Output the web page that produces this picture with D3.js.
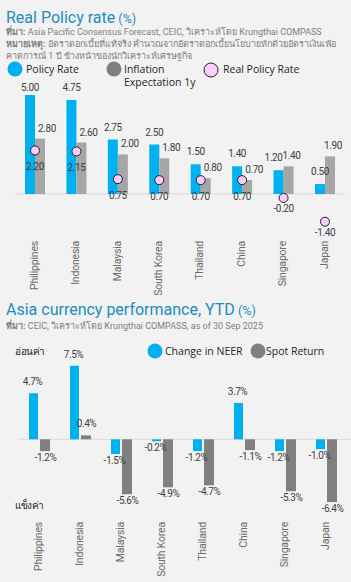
<!DOCTYPE html>
<html>
<head>
<meta charset="utf-8">
<script src="https://cdn.jsdelivr.net/npm/d3@7"></script>
<style>
  body { margin: 0; background: #f2f2f2; }
  svg { display: block; }
  .title { font-family: Roboto, sans-serif; font-size: 16px; fill: #1b8dbd; }
  .src { font-family: Roboto, "Noto Sans", sans-serif; font-size: 9px; fill: #808080; }
  .lg { font-family: "Open Sans", sans-serif; font-size: 10.5px; fill: #262626; }
  .lbl { font-family: Roboto, sans-serif; font-size: 10px; letter-spacing: -0.4px; fill: #404040; }
  .cat { font-family: Roboto, sans-serif; font-size: 10.5px; letter-spacing: -0.2px; fill: #6b6b6b; }
</style>
</head>
<body>
<div id="chart"></div>
<script>
'use strict';

// chart 1 data
var countries = ['Philippines', 'Indonesia', 'Malaysia', 'South Korea', 'Thailand', 'China', 'Singapore', 'Japan'];
var policyRate = [5.00, 4.75, 2.75, 2.50, 1.50, 1.40, 1.20, 0.50];
var inflationExp = [2.80, 2.60, 2.00, 1.80, 0.80, 0.70, 1.40, 1.90];
var realRate = [2.20, 2.15, 0.75, 0.70, 0.70, 0.70, -0.20, -1.40];

// chart 2 data
var neer = [4.7, 7.5, -1.5, -0.2, -1.2, 3.7, -1.2, -1.0];
var spotReturn = [-1.2, 0.4, -5.6, -4.9, -4.7, -1.1, -5.3, -6.4];

var blue = '#00b0f0',
    grayLight = '#a6a6a6',
    grayDark = '#808080',
    pink = '#ffccff';

var svg = d3.select('#chart').append('svg').attr('width', 351).attr('height', 582);

function f2(v) { return v.toFixed(2); }
function pct(v) { return v.toFixed(1) + '%'; }

// ---------- headers ----------
var t1 = svg.append('text').attr('class', 'title').attr('x', 6).attr('y', 23);
t1.append('tspan').text('Real Policy rate');
t1.append('tspan').attr('font-size', '12.5px').text(' (%)');

svg.append('text').attr('class', 'src').attr('x', 6).attr('y', 35)
  .html('<tspan font-weight="bold">ที่มา:</tspan> Asia Pacific Consensus Forecast, CEIC, วิเคราะห์โดย Krungthai COMPASS');
svg.append('text').attr('class', 'src').attr('x', 6).attr('y', 47)
  .html('<tspan font-weight="bold">หมายเหตุ:</tspan> อัตราดอกเบี้ยที่แท้จริง คำนวณจากอัตราดอกเบี้ยนโยบายหักด้วยอัตราเงินเฟ้อ');
svg.append('text').attr('class', 'src').attr('x', 6).attr('y', 59)
  .text('คาดการณ์ 1 ปี ข้างหน้าของนักวิเคราะห์เศรษฐกิจ');

// legend 1
svg.append('circle').attr('cx', 15).attr('cy', 69).attr('r', 7.5).attr('fill', blue);
svg.append('text').attr('class', 'lg').attr('x', 26).attr('y', 73).text('Policy Rate');
svg.append('circle').attr('cx', 114).attr('cy', 69).attr('r', 7.5).attr('fill', grayDark);
svg.append('text').attr('class', 'lg').attr('x', 124).attr('y', 73).text('Inflation');
svg.append('text').attr('class', 'lg').attr('x', 124).attr('y', 85.5).text('Expectation 1y');
svg.append('circle').attr('cx', 211).attr('cy', 70).attr('r', 7).attr('fill', pink).attr('stroke', '#222').attr('stroke-width', 1);
svg.append('text').attr('class', 'lg').attr('x', 223).attr('y', 73).text('Real Policy Rate');

// ---------- chart 1 ----------
var x1 = d3.scaleBand().domain(countries).range([14.3, 345.7]),
    y1 = d3.scaleLinear().domain([0, 5]).range([194, 95]);

var g1 = svg.append('g');
var rows1 = countries.map(function (c, i) {
  return { c: c, p: policyRate[i], inf: inflationExp[i], r: realRate[i] };
});

g1.append('line').attr('x1', 15).attr('x2', 345).attr('y1', y1(0)).attr('y2', y1(0))
  .attr('stroke', '#d9d9d9').attr('stroke-width', 1);

g1.selectAll('rect.pol').data(rows1).enter().append('rect').attr('class', 'pol')
  .attr('x', function (d) { return x1(d.c) + x1.bandwidth() / 2 - 10; })
  .attr('width', 10)
  .attr('y', function (d) { return y1(d.p); })
  .attr('height', function (d) { return y1(0) - y1(d.p); })
  .attr('fill', blue);

g1.selectAll('rect.inf').data(rows1).enter().append('rect').attr('class', 'inf')
  .attr('x', function (d) { return x1(d.c) + x1.bandwidth() / 2; })
  .attr('width', 10)
  .attr('y', function (d) { return y1(d.inf); })
  .attr('height', function (d) { return y1(0) - y1(d.inf); })
  .attr('fill', grayLight);

// policy labels, pushed left when the inflation label sits close beside them
g1.selectAll('text.pl').data(rows1).enter().append('text').attr('class', 'lbl pl')
  .attr('text-anchor', 'middle')
  .attr('x', function (d) { return x1(d.c) + x1.bandwidth() / 2 - 5 + (d.p < d.inf && d.inf - d.p < 0.5 ? -5 : 0); })
  .attr('y', function (d) { return Math.max(91, y1(d.p) - 9); })
  .text(function (d) { return f2(d.p); });

g1.selectAll('text.il').data(rows1).enter().append('text').attr('class', 'lbl il')
  .attr('text-anchor', 'middle')
  .attr('x', function (d) { return x1(d.c) + x1.bandwidth() / 2 + 5 + (d.p > d.inf ? 7 : 3); })
  .attr('y', function (d) { return y1(d.inf) - 7; })
  .text(function (d) { return f2(d.inf); });

g1.selectAll('circle.rr').data(rows1).enter().append('circle').attr('class', 'rr')
  .attr('cx', function (d) { return x1(d.c) + x1.bandwidth() / 2; })
  .attr('cy', function (d) { return y1(d.r); })
  .attr('r', 4.5)
  .attr('fill', pink).attr('stroke', '#222').attr('stroke-width', 1);

g1.selectAll('text.rl').data(rows1).enter().append('text').attr('class', 'lbl rl')
  .attr('text-anchor', 'middle')
  .attr('x', function (d) { return x1(d.c) + x1.bandwidth() / 2; })
  .attr('y', function (d) { return y1(d.r) + (d.r > 0 ? 20 : 14); })
  .text(function (d) { return f2(d.r); });

g1.selectAll('text.cat').data(countries).enter().append('text').attr('class', 'cat')
  .attr('text-anchor', 'end')
  .attr('transform', function (d) {
    return 'translate(' + (x1(d) + x1.bandwidth() / 2 - 1) + ',241) rotate(-90)';
  })
  .attr('dy', '0.35em')
  .text(function (d) { return d; });

// ---------- chart 2 headers ----------
var t2 = svg.append('text').attr('class', 'title').attr('x', 6).attr('y', 315);
t2.append('tspan').text('Asia currency performance, YTD');
t2.append('tspan').attr('font-size', '12.5px').text(' (%)');

svg.append('text').attr('class', 'src').attr('x', 6).attr('y', 329)
  .html('<tspan font-weight="bold">ที่มา:</tspan> CEIC, วิเคราะห์โดย Krungthai COMPASS, as of 30 Sep 2025');

svg.append('circle').attr('cx', 155).attr('cy', 351).attr('r', 7.5).attr('fill', blue);
svg.append('text').attr('class', 'lg').attr('x', 165).attr('y', 355).text('Change in NEER');
svg.append('circle').attr('cx', 258).attr('cy', 351).attr('r', 7.5).attr('fill', grayDark);
svg.append('text').attr('class', 'lg').attr('x', 266).attr('y', 355).text('Spot Return');

svg.append('text').attr('class', 'lbl').attr('x', 15).attr('y', 355).style('fill', '#222').text('อ่อนค่า');
svg.append('text').attr('class', 'lbl').attr('x', 15).attr('y', 509).style('fill', '#222').text('แข็งค่า');

// ---------- chart 2 ----------
var x2 = d3.scaleBand().domain(countries).range([19, 347]),
    y2 = d3.scaleLinear().domain([0, 7.5]).range([439.3, 365.8]);

var g2 = svg.append('g');
var rows2 = countries.map(function (c, i) {
  return { c: c, n: neer[i], s: spotReturn[i] };
});

g2.append('line').attr('x1', 18).attr('x2', 351).attr('y1', y2(0)).attr('y2', y2(0))
  .attr('stroke', '#d9d9d9').attr('stroke-width', 1);

function barY(v) { return v >= 0 ? y2(v) : y2(0); }
function barH(v) { return Math.abs(y2(v) - y2(0)); }
function lblY(v) { return v >= 0 ? y2(v) - 8 : y2(v) + 9.5; }

g2.selectAll('rect.ne').data(rows2).enter().append('rect').attr('class', 'ne')
  .attr('x', function (d) { return x2(d.c) + x2.bandwidth() / 2 - 10.5; })
  .attr('width', 9)
  .attr('y', function (d) { return barY(d.n); })
  .attr('height', function (d) { return barH(d.n); })
  .attr('fill', blue);

g2.selectAll('rect.sp').data(rows2).enter().append('rect').attr('class', 'sp')
  .attr('x', function (d) { return x2(d.c) + x2.bandwidth() / 2 + 0.5; })
  .attr('width', 10)
  .attr('y', function (d) { return barY(d.s); })
  .attr('height', function (d) { return barH(d.s); })
  .attr('fill', grayDark);

g2.selectAll('text.nl').data(rows2).enter().append('text').attr('class', 'lbl nl')
  .attr('text-anchor', 'middle')
  .attr('x', function (d) { return x2(d.c) + x2.bandwidth() / 2 - 7; })
  .attr('y', function (d) { return lblY(d.n); })
  .text(function (d) { return pct(d.n); });

g2.selectAll('text.sl').data(rows2).enter().append('text').attr('class', 'lbl sl')
  .attr('text-anchor', 'middle')
  .attr('x', function (d) { return x2(d.c) + x2.bandwidth() / 2 + 6; })
  .attr('y', function (d) { return lblY(d.s); })
  .text(function (d) { return pct(d.s); });

g2.selectAll('text.cat').data(countries).enter().append('text').attr('class', 'cat')
  .attr('text-anchor', 'end')
  .attr('transform', function (d) {
    return 'translate(' + (x2(d) + x2.bandwidth() / 2 - 1) + ',522) rotate(-90)';
  })
  .attr('dy', '0.35em')
  .text(function (d) { return d; });
</script>
</body>
</html>
